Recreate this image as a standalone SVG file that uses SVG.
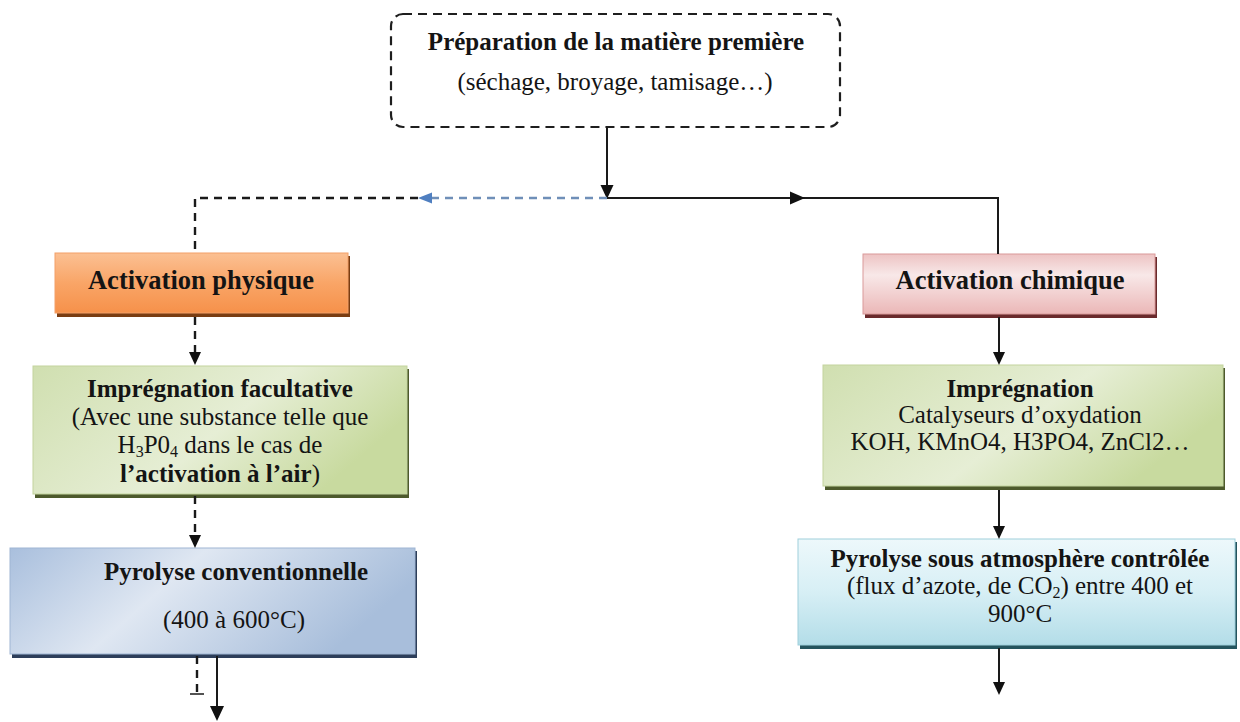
<svg xmlns="http://www.w3.org/2000/svg" width="1240" height="722" viewBox="0 0 1240 722">
<style>
.t{font-family:"Liberation Serif","Times New Roman",serif;font-size:25px;fill:#141414;text-anchor:middle}
.b{font-weight:bold}
.big{font-size:26.5px}
.ln{fill:none;stroke:#1a1a1a;stroke-width:2}
.dash{fill:none;stroke:#1a1a1a;stroke-width:2.4;stroke-dasharray:8 6}
.sub{font-size:16px}
.ah{fill:#111}
</style>
<defs>
<linearGradient id="gOr" x1="0" y1="0" x2="0" y2="1">
<stop offset="0" stop-color="#fbc093"/><stop offset="0.5" stop-color="#f9a567"/><stop offset="1" stop-color="#f6914a"/>
</linearGradient>
<linearGradient id="gPk" x1="0" y1="0" x2="0" y2="1">
<stop offset="0" stop-color="#edc3c3"/><stop offset="0.35" stop-color="#f8e8e8"/><stop offset="1" stop-color="#ebb7b7"/>
</linearGradient>
<linearGradient id="gGr" x1="0" y1="0" x2="1" y2="0.4">
<stop offset="0" stop-color="#d0dfb0"/><stop offset="0.6" stop-color="#e6eed5"/><stop offset="1" stop-color="#c8da9f"/>
</linearGradient>
<linearGradient id="gBl" x1="0" y1="0" x2="1" y2="0.3">
<stop offset="0" stop-color="#a9bfdd"/><stop offset="0.45" stop-color="#dfe7f2"/><stop offset="1" stop-color="#a8bedb"/>
</linearGradient>
<linearGradient id="gCy" x1="0" y1="0" x2="0" y2="1">
<stop offset="0" stop-color="#edf8fb"/><stop offset="0.5" stop-color="#d7eff5"/><stop offset="1" stop-color="#b3dde8"/>
</linearGradient>
</defs>

<g id="prep">
<rect x="391" y="14" width="449" height="113" rx="12" fill="#fff" stroke="#1e1e1e" stroke-width="2.2" stroke-dasharray="9 6"/>
<text class="t b" x="616" y="50">Préparation de la matière première</text>
<text class="t" x="615" y="90">(séchage, broyage, tamisage…)</text>
</g>

<g id="act-phys">
<rect x="57" y="256" width="293" height="61" fill="#7a3d12"/>
<rect x="55" y="253" width="293" height="60" fill="url(#gOr)" stroke="#f3a068" stroke-width="1"/>
<text class="t b big" x="201" y="289">Activation physique</text>
</g>

<g id="act-chim">
<rect x="865" y="257" width="292" height="61" fill="#6a2a2c"/>
<rect x="863" y="254" width="292" height="60" fill="url(#gPk)" stroke="#d99a9a" stroke-width="1"/>
<text class="t b big" x="1010" y="289">Activation chimique</text>
</g>

<g id="impr-fac">
<rect x="35" y="369" width="374" height="129" fill="#4d5a2c"/>
<rect x="33" y="366" width="374" height="128" fill="url(#gGr)" stroke="#c3d49e" stroke-width="1"/>
<text class="t b" x="220" y="397">Imprégnation facultative</text>
<text class="t" x="220" y="425">(Avec une substance telle que</text>
<text class="t" x="220" y="453">H<tspan class="sub" dy="4">3</tspan><tspan dy="-4">P0</tspan><tspan class="sub" dy="4">4</tspan><tspan dy="-4"> dans le cas de</tspan></text>
<text class="t" x="220" y="482"><tspan class="b">l’activation à l’air</tspan>)</text>
</g>

<g id="impr">
<rect x="825" y="368" width="400" height="122" fill="#4d5a2c"/>
<rect x="823" y="365" width="400" height="121" fill="url(#gGr)" stroke="#c3d49e" stroke-width="1"/>
<text class="t b" x="1020" y="397">Imprégnation</text>
<text class="t" x="1020" y="423">Catalyseurs d’oxydation</text>
<text class="t" x="1020" y="450">KOH, KMnO4, H3PO4, ZnCl2…</text>
</g>

<g id="pyro-conv">
<rect x="12" y="551" width="405" height="107" fill="#2d3e5a"/>
<rect x="10" y="548" width="405" height="106" fill="url(#gBl)" stroke="#9fb5d3" stroke-width="1"/>
<text class="t b" x="236" y="580">Pyrolyse conventionnelle</text>
<text class="t" x="234" y="628">(400 à 600°C)</text>
</g>

<g id="pyro-atm">
<rect x="800" y="542" width="437" height="107" fill="#24545e"/>
<rect x="798" y="539" width="437" height="106" fill="url(#gCy)" stroke="#9fd0dc" stroke-width="1"/>
<text class="t b" x="1020" y="567">Pyrolyse sous atmosphère contrôlée</text>
<text class="t" x="1020" y="594">(flux d’azote, de CO<tspan class="sub" dy="4">2</tspan><tspan dy="-4">) entre 400 et</tspan></text>
<text class="t" x="1020" y="622">900°C</text>
</g>

<g id="connectors">
<path class="ln" d="M607,127 V188"/>
<path class="ah" d="M600.5,185 L613.5,185 L607,199 z"/>
<path class="ln" d="M607,198 H998 V254"/>
<path class="ah" d="M790,191.5 L805,198 L790,204.5 z"/>
<path d="M607,198 H428" fill="none" stroke="#6f8fb8" stroke-width="2.4" stroke-dasharray="8 6"/>
<path d="M418,198 L432,192.5 L432,203.5 z" fill="#4f7fc0"/>
<path class="dash" d="M418,198 H195 V253"/>
<path class="dash" d="M195,317 V356"/>
<path class="ah" d="M189,352 L201,352 L195,365 z"/>
<path class="dash" d="M195,496 V539"/>
<path class="ah" d="M189,535 L201,535 L195,548 z"/>
<path class="dash" d="M197,656 V694"/>
<path d="M190,694 H204" stroke="#1a1a1a" stroke-width="1.5"/>
<path class="ln" d="M217,656 V708"/>
<path class="ah" d="M210,706 L224,706 L217,721 z"/>
<path class="ln" d="M999,317 V356"/>
<path class="ah" d="M993,352 L1005,352 L999,365 z"/>
<path class="ln" d="M999,490 V530"/>
<path class="ah" d="M993,526 L1005,526 L999,539 z"/>
<path class="ln" d="M999,648 V686"/>
<path class="ah" d="M993,682 L1005,682 L999,695 z"/>
</g>
</svg>
